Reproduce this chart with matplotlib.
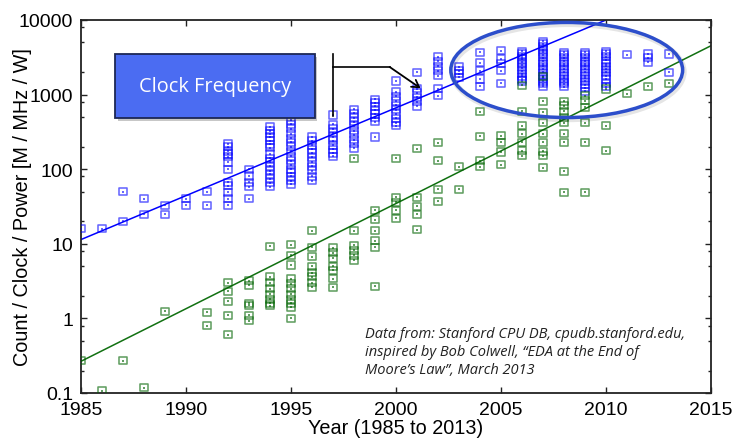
import matplotlib
matplotlib.use('Agg')
import matplotlib.pyplot as plt
import matplotlib.patches as patches
from matplotlib.ticker import LogLocator, NullFormatter, FixedLocator

# clock frequency (MHz), one list per year
clock_years = [1985, 1986, 1987, 1988, 1989, 1990, 1991, 1992, 1993, 1994,
               1995, 1996, 1997, 1998, 1999, 2000, 2001, 2002, 2003, 2004,
               2005, 2006, 2007, 2008, 2009, 2010, 2011, 2012, 2013]
clock_vals = [
    [16], [16], [50, 20], [40, 25], [33, 25], [40, 33], [50, 33],
    [218, 199, 175, 160, 146, 125, 100, 67, 60, 49, 40, 33],
    [100, 81, 67, 58, 40],
    [370, 330, 300, 270, 240, 215, 195, 160, 140, 125, 110, 95, 85, 75, 66, 58],
    [450, 400, 350, 300, 260, 230, 200, 175, 150, 130, 115, 100, 90, 80, 70, 63],
    [270, 240, 210, 185, 165, 145, 125, 110, 95, 80, 70],
    [533, 400, 350, 310, 270, 240, 210, 185, 165, 150],
    [640, 560, 490, 430, 380, 330, 290, 250, 220, 190],
    [870, 780, 700, 620, 550, 490, 430, 270],
    [1520, 1100, 950, 820, 720, 630, 550, 480, 420, 380],
    [2000, 1200, 1050, 920, 800, 700],
    [3200, 2800, 2400, 2100, 1800, 1200, 960],
    [2350, 2100, 1900, 1700],
    [3690, 2660, 2090, 1620, 1290],
    [3880, 3000, 2600, 2100, 1420],
    [3800, 3500, 3200, 3000, 2700, 2500, 2300, 2100, 1900, 1750, 1600, 1520],
    [5200, 4800, 4400, 4000, 3700, 3400, 3100, 2800, 2600, 2400, 2200, 2000,
     1800, 1650, 1500, 1400, 1300],
    [3700, 3400, 3100, 2800, 2600, 2400, 2200, 2000, 1800, 1650, 1500, 1400, 1270],
    [3700, 3400, 3100, 2800, 2600, 2400, 2200, 2000, 1800, 1650, 1500, 1350,
     1230, 1110],
    [3800, 3500, 3200, 2900, 2600, 2400, 2200, 2000, 1800, 1620, 1400, 1270],
    [3400], [3500, 3100, 2700], [3500, 2000],
]

# performance per watt, one list per year
power_years = [1985, 1986, 1987, 1988, 1989, 1991, 1992, 1993, 1994, 1995,
               1996, 1997, 1998, 1999, 2000, 2001, 2002, 2003, 2004, 2005,
               2006, 2007, 2008, 2009, 2010, 2011, 2012, 2013]
power_vals = [
    [0.27], [0.107], [0.27], [0.117], [1.24], [1.2, 0.8],
    [3.0, 2.3, 1.7, 1.1, 0.6],
    [3.2, 2.8, 1.6, 1.5, 1.1, 0.93],
    [9.3, 3.6, 3.0, 2.5, 2.1, 1.8, 1.6, 1.47],
    [9.7, 7.0, 5.2, 3.4, 2.9, 2.5, 2.1, 1.8, 1.6, 1.4, 1.0],
    [15, 9.0, 6.7, 5.0, 4.1, 3.6, 3.0, 2.6],
    [8.8, 7.6, 6.4, 5.0, 4.4, 3.4, 2.6],
    [140, 15, 9.5, 8.2, 7.0, 6.0],
    [28, 21, 15, 11, 9.0, 2.7],
    [140, 42, 36, 28, 22],
    [187, 42, 32, 25, 15.5],
    [225, 130, 54, 37],
    [108, 54],
    [590, 275, 130, 108],
    [280, 230, 170, 115],
    [1340, 600, 380, 300, 230, 177, 152],
    [1740, 810, 580, 420, 300, 230, 173, 152, 104],
    [810, 710, 600, 500, 420, 300, 230, 94, 49],
    [970, 830, 680, 420, 230, 49],
    [1190, 380, 177], [1020], [1290], [1420],
]

# trend lines (end points)
clock_fit_years = [1985, 2010]
clock_fit_vals = [11.4, 10000]
power_fit_years = [1985, 2015]
power_fit_vals = [0.266, 4520]

x_ticks = [1985, 1990, 1995, 2000, 2005, 2010, 2015]
y_ticks = [0.1, 1, 10, 100, 1000, 10000]
y_ticklabels = ['0.1', '1', '10', '100', '1000', '10000']


def expand(years, vals):
    xs, ys = [], []
    for yr, vs in zip(years, vals):
        for v in vs:
            xs.append(yr)
            ys.append(v)
    return xs, ys


plt.rcParams['font.family'] = ['Liberation Sans', 'DejaVu Sans']

fig = plt.figure(figsize=(7.32, 4.39), dpi=100)
ax = fig.add_axes([81 / 732, 1 - 394 / 439, 630 / 732, 373 / 439])

blue = (0.0, 0.0, 1.0, 0.6)
green = (0.0, 0.39, 0.0, 0.62)

bx, by = expand(clock_years, clock_vals)
gx, gy = expand(power_years, power_vals)

for xs, ys, c in [(bx, by, blue), (gx, gy, green)]:
    ax.scatter(xs, ys, marker='s', s=26, facecolors='none', edgecolors=[c],
               linewidths=1.15, zorder=3)
    ax.scatter(xs, ys, marker='s', s=1.5, color=[c], linewidths=0, zorder=3)

ax.plot(clock_fit_years, clock_fit_vals, color='#0000ff', lw=1.1, zorder=2)
ax.plot(power_fit_years, power_fit_vals, color='#107010', lw=1.1, zorder=2)

ax.set_yscale('log')
ax.set_xlim(1985, 2015)
ax.set_ylim(0.1, 10000)
ax.xaxis.set_major_locator(FixedLocator(x_ticks))
ax.set_yticks(y_ticks)
ax.set_yticklabels(y_ticklabels)
ax.yaxis.set_minor_locator(LogLocator(base=10, subs=(2, 5, 8)))
ax.yaxis.set_minor_formatter(NullFormatter())
ax.tick_params(which='both', direction='in', top=True, right=True,
               labelsize=14, colors='#222222', labelcolor='black')
ax.tick_params(axis='y', which='major', length=4.5, width=1, pad=5.5)
ax.tick_params(axis='y', which='minor', length=2.5, width=1)
ax.tick_params(axis='x', which='major', length=4.5, width=1, pad=6)
for s in ax.spines.values():
    s.set_linewidth(1.3)
    s.set_color('#222222')

ax.set_xlabel('Year (1985 to 2013)', fontsize=14.3)
ax.set_ylabel('Count / Clock / Power [M / MHz / W]', fontsize=14.3)
ax.yaxis.set_label_coords(-0.078, 0.5)
ax.xaxis.set_label_coords(0.5, -0.068)

# highlight ellipse with a soft shadow
ax.add_patch(patches.Ellipse((0.773, 0.861), 0.368, 0.255, transform=ax.transAxes,
                             fill=False, ec=(0, 0, 0, 0.1), lw=4, zorder=4))
ax.add_patch(patches.Ellipse((0.771, 0.866), 0.368, 0.255, transform=ax.transAxes,
                             fill=False, ec='#2c4ecb', lw=2.5, zorder=4))

# "Clock Frequency" callout box
ax.add_patch(patches.Rectangle((0.058, 0.730), 0.317, 0.172, transform=ax.transAxes,
                               fc=(0, 0, 0, 0.22), ec='none', zorder=5, clip_on=False))
ax.add_patch(patches.Rectangle((0.054, 0.737), 0.317, 0.172, transform=ax.transAxes,
                               fc='#4b6cf2', ec='#1c2755', lw=1.3, zorder=6, clip_on=False))
ax.text(0.2125, 0.823, 'Clock Frequency', transform=ax.transAxes, color='white',
        fontsize=14.3, family=['Open Sans', 'DejaVu Sans'], ha='center', va='center',
        zorder=7)

# connector and arrow
ax.plot([0.4, 0.4], [0.909, 0.743], transform=ax.transAxes, color='black', lw=1.2,
        zorder=6, clip_on=False)
ax.plot([0.4, 0.49], [0.874, 0.874], transform=ax.transAxes, color='black', lw=1.2,
        zorder=6)
ax.annotate('', xy=(0.539, 0.817), xytext=(0.49, 0.874), xycoords='axes fraction',
            arrowprops=dict(arrowstyle='->,head_length=0.5,head_width=0.3',
                            color='black', lw=1.3, shrinkA=0, shrinkB=0),
            zorder=6)

ax.text(0.451, 0.18,
        'Data from: Stanford CPU DB, cpudb.stanford.edu,\n'
        'inspired by Bob Colwell, \u201cEDA at the End of\n'
        'Moore\u2019s Law\u201d, March 2013',
        transform=ax.transAxes, ha='left', va='top', fontsize=10.5,
        style='italic', family=['Open Sans', 'DejaVu Sans'], linespacing=1.3,
        color='#222222')

fig.savefig('out.png', dpi=100)
